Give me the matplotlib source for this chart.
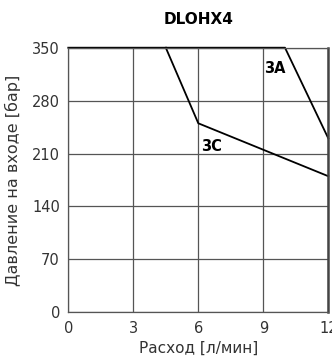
import matplotlib
matplotlib.use("Agg")
import matplotlib.pyplot as plt

title = "DLOHX4"
xlabel = "Расход [л/мин]"
ylabel = "Давление на входе [бар]"
xticks = [0, 3, 6, 9, 12]
yticks = [0, 70, 140, 210, 280, 350]

curve_3a_x = [0, 10, 12]
curve_3a_y = [350, 350, 230]
curve_3c_x = [4.5, 6, 12]
curve_3c_y = [350, 250, 180]

labels = ["3A", "3C"]
label_x = [9.05, 6.15]
label_y = [322, 219]

plt.rcParams['font.family'] = ['DejaVu Sans']
fig = plt.figure(figsize=(3.32, 3.56), dpi=100)
ax = fig.add_axes([0.2057, 0.1228, 0.9889 - 0.2057, 0.866 - 0.1228])
ax.set_xlim(0, 12)
ax.set_ylim(0, 350)
ax.set_xticks(xticks)
ax.set_yticks(yticks)
ax.grid(True, color="#555555", linewidth=0.9)
ax.set_axisbelow(True)
for s in ["left", "bottom", "top"]:
    ax.spines[s].set_color("#555555")
    ax.spines[s].set_linewidth(0.9)
ax.spines["right"].set_color("#444444")
ax.spines["right"].set_linewidth(1.8)
ax.tick_params(length=0, pad=6, labelsize=10.5, labelcolor="#333333")

ax.plot(curve_3a_x, curve_3a_y, color="black", linewidth=1.3, clip_on=False)
ax.plot(curve_3c_x, curve_3c_y, color="black", linewidth=1.3, clip_on=False)
for t, x, y in zip(labels, label_x, label_y):
    ax.text(x, y, t, fontsize=10.5, fontweight="bold", color="black", va="center", ha="left")

ax.set_xlabel(xlabel, fontsize=11, color="#333333", labelpad=4)
ax.set_ylabel(ylabel, fontsize=11.5, color="#333333", labelpad=8)
ax.set_title(title, fontsize=11, fontweight="bold", pad=17)

fig.savefig("out.png", dpi=100)
